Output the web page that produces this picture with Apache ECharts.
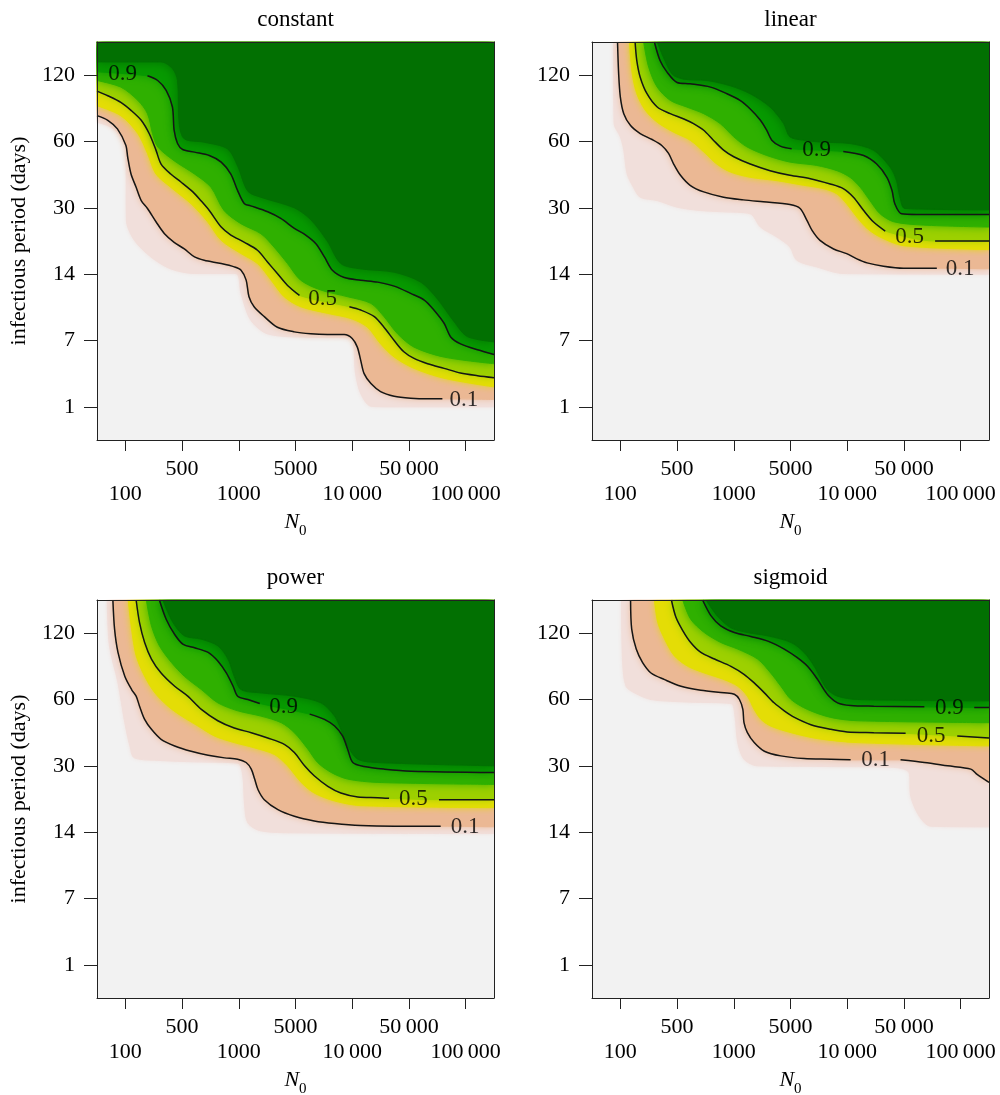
<!DOCTYPE html>
<html><head><meta charset="utf-8">
<script src="https://cdn.jsdelivr.net/npm/echarts@6/dist/echarts.min.js"></script>
<style>html,body{margin:0;padding:0;background:#fff}#c{width:1000px;height:1095px}</style>
</head><body><div id="c"></div>
<script>
// ---- tick labels / titles ----
const xTickLabels = ['100','500','1000','5000','10\u2009000','50\u2009000','100\u2009000'];
const yTickLabels = ['1','7','14','30','60','120'];
const panelTitles = ['constant','linear','power','sigmoid'];
const contourLevels = ['0.1','0.5','0.9'];

// ---- panel "constant": band boundaries [x index, y index]; contours as segments (broken at labels) ----
const constant_pale = [[-0.5,4.29],[-0.31,4.24],[-0.14,4.14],[0.01,3.87],[0.02,2.81],[0.16,2.51],[0.45,2.26],[0.80,2.08],[1.22,2.01],[1.95,2.01],[2.04,1.71],[2.21,1.31],[2.51,1.10],[3.21,1.05],[3.98,1.04],[4.06,0.50],[4.15,0.20],[4.33,0.01],[4.74,0],[6.5,0]];
const constant_c01 = [[[-0.5,4.39],[-0.31,4.32],[-0.14,4.19],[0.01,3.94],[0.04,3.77],[0.10,3.51],[0.19,3.31],[0.28,3.11],[0.39,2.99],[0.54,2.79],[0.69,2.61],[0.86,2.48],[1.04,2.38],[1.22,2.26],[1.39,2.21],[1.69,2.16],[1.92,2.11],[2.04,2.06],[2.13,1.91],[2.18,1.66],[2.27,1.51],[2.45,1.36],[2.68,1.20],[2.98,1.13],[3.27,1.10],[3.56,1.09],[3.86,1.09],[4.00,1.03],[4.09,0.90],[4.15,0.70],[4.21,0.50],[4.33,0.35],[4.50,0.23],[4.74,0.16],[5.03,0.13],[5.33,0.12],[5.59,0.12]],[[6.5,0.11]]];
const constant_yellow = [[-0.5,4.54],[-0.08,4.39],[0.22,4.12],[0.39,3.82],[0.54,3.51],[0.80,3.31],[1.16,3.06],[1.45,2.79],[1.69,2.51],[2.04,2.31],[2.33,2.16],[2.57,1.91],[2.80,1.66],[3.09,1.51],[3.56,1.41],[3.98,1.33],[4.27,1.20],[4.50,0.95],[4.74,0.75],[5.09,0.58],[5.62,0.43],[6.5,0.30]];
const constant_c05 = [[[-0.5,4.76],[-0.31,4.69],[-0.08,4.59],[0.10,4.47],[0.28,4.32],[0.42,4.12],[0.54,3.87],[0.63,3.66],[0.80,3.51],[0.98,3.39],[1.19,3.24],[1.33,3.11],[1.48,2.96],[1.69,2.71],[1.86,2.59],[2.10,2.48],[2.33,2.36],[2.51,2.18],[2.68,2.01],[2.86,1.83],[3.07,1.68]],[[3.95,1.51],[4.15,1.46],[4.39,1.36],[4.56,1.20],[4.74,1.00],[4.91,0.83],[5.09,0.73],[5.33,0.65],[5.62,0.58],[5.91,0.51],[6.21,0.47],[6.5,0.44]]];
const constant_green = [[-0.5,4.92],[-0.08,4.82],[0.22,4.62],[0.39,4.42],[0.48,4.12],[0.57,3.92],[0.86,3.71],[1.22,3.51],[1.51,3.31],[1.74,2.96],[2.04,2.76],[2.39,2.61],[2.62,2.41],[2.86,2.16],[3.09,1.91],[3.45,1.76],[3.92,1.66],[4.33,1.56],[4.56,1.36],[4.80,1.10],[5.09,0.90],[5.62,0.75],[6.5,0.65]];
const constant_c09 = [[[-0.5,5.05]],[[0.39,4.99],[0.57,4.92],[0.72,4.77],[0.83,4.52],[0.86,4.17],[0.92,3.97],[1.01,3.88],[1.22,3.84],[1.48,3.79],[1.69,3.69],[1.86,3.51],[1.98,3.26],[2.10,3.06],[2.21,3.03],[2.51,2.94],[2.74,2.84],[2.98,2.69],[3.18,2.59],[3.36,2.46],[3.51,2.26],[3.65,2.06],[3.86,1.95],[4.15,1.91],[4.45,1.88],[4.74,1.82],[5.03,1.71],[5.27,1.61],[5.44,1.46],[5.62,1.26],[5.74,1.05],[5.91,0.95],[6.21,0.86],[6.5,0.79]]];
const constant_dark = [[-0.5,5.20],[0.63,5.20],[0.83,5.10],[0.92,4.92],[0.95,4.27],[1.04,4.04],[1.39,3.99],[1.80,3.89],[1.98,3.63],[2.16,3.25],[2.39,3.16],[2.98,3.00],[3.27,2.82],[3.56,2.50],[3.80,2.16],[4.15,2.08],[4.74,2.03],[5.21,1.88],[5.50,1.63],[5.80,1.28],[6.03,1.06],[6.5,0.98]];
const constant_labels = [[-0.05,5.02,'0.9'],[3.48,1.62,'0.5'],[5.97,0.11,'0.1']];

// ---- panel "linear" ----
const linear_pale = [[-0.12,5.5],[-0.11,4.27],[0.0,4.07],[0.06,3.87],[0.12,3.51],[0.23,3.31],[0.35,3.16],[0.65,3.11],[1.00,3.01],[1.41,2.96],[1.82,2.94],[2.29,2.91],[2.47,2.71],[2.76,2.56],[2.99,2.41],[3.11,2.21],[3.46,2.11],[3.93,2.01],[6.5,2.00]];
const linear_c01 = [[[-0.05,5.5],[-0.03,5.02],[0.0,4.67],[0.06,4.42],[0.18,4.24],[0.35,4.12],[0.56,4.03],[0.73,3.94],[0.85,3.82],[0.94,3.66],[1.06,3.49],[1.23,3.34],[1.47,3.24],[1.82,3.16],[2.17,3.12],[2.52,3.09],[2.99,3.05],[3.17,2.99],[3.29,2.81],[3.38,2.66],[3.52,2.51],[3.76,2.38],[3.99,2.31],[4.17,2.23],[4.35,2.17],[4.64,2.12],[4.99,2.09],[5.34,2.09],[5.58,2.09]],[[6.5,2.08]]];
const linear_yellow = [[0.16,5.5],[0.21,5.02],[0.29,4.72],[0.44,4.47],[0.65,4.29],[0.94,4.14],[1.23,4.02],[1.50,3.82],[1.70,3.66],[1.94,3.54],[2.29,3.46],[2.76,3.41],[3.23,3.34],[3.58,3.29],[3.82,3.21],[3.99,3.06],[4.17,2.86],[4.35,2.69],[4.58,2.56],[4.99,2.43],[6.5,2.37]];
const linear_c05 = [[[0.26,5.5],[0.29,5.22],[0.35,4.97],[0.47,4.72],[0.65,4.52],[0.88,4.42],[1.12,4.34],[1.29,4.27],[1.47,4.17],[1.64,4.02],[1.82,3.87],[2.00,3.77],[2.29,3.66],[2.64,3.56],[2.99,3.49],[3.35,3.44],[3.70,3.36],[3.93,3.29],[4.11,3.16],[4.29,2.96],[4.46,2.79],[4.67,2.65]],[[5.55,2.50],[6.5,2.50]]];
const linear_green = [[0.41,5.5],[0.50,5.12],[0.65,4.82],[0.88,4.62],[1.17,4.52],[1.47,4.42],[1.76,4.27],[2.00,4.07],[2.23,3.92],[2.58,3.79],[2.99,3.69],[3.46,3.64],[3.82,3.56],[4.05,3.46],[4.23,3.31],[4.40,3.11],[4.58,2.91],[4.82,2.79],[5.34,2.74],[6.5,2.71]];
const linear_c09 = [[[0.60,5.5],[0.70,5.22],[0.82,5.05],[1.00,4.89],[1.23,4.87],[1.59,4.82],[1.88,4.72],[2.11,4.62],[2.29,4.49],[2.47,4.32],[2.58,4.17],[2.67,4.02],[2.82,3.93],[3.02,3.89]],[[3.93,3.85],[4.29,3.79],[4.52,3.66],[4.70,3.46],[4.79,3.26],[4.84,3.06],[4.96,2.91],[5.23,2.90],[6.5,2.90]]];
const linear_dark = [[0.65,5.5],[0.91,5.02],[1.12,4.94],[1.53,4.92],[1.94,4.84],[2.29,4.72],[2.64,4.52],[2.88,4.27],[2.99,4.07],[3.23,4.02],[3.58,3.99],[4.05,3.97],[4.46,3.87],[4.76,3.61],[4.87,3.41],[4.93,3.16],[5.02,2.99],[6.5,2.97]];
const linear_labels = [[3.46,3.87,'0.9'],[5.10,2.56,'0.5'],[5.99,2.08,'0.1']];

// ---- panel "power" ----
const power_pale = [[-0.32,5.5],[-0.28,4.81],[-0.13,4.25],[-0.01,3.65],[0.08,3.30],[0.16,3.12],[0.63,3.08],[1.22,3.06],[1.98,3.04],[2.07,2.85],[2.10,2.44],[2.16,2.14],[2.39,2.02],[2.98,1.99],[6.5,1.98]];
const power_c01 = [[[-0.22,5.5],[-0.19,5.06],[-0.13,4.71],[-0.01,4.35],[0.11,4.15],[0.19,4.05],[0.25,3.90],[0.34,3.70],[0.46,3.55],[0.63,3.40],[0.87,3.30],[1.16,3.22],[1.46,3.16],[1.75,3.12],[1.98,3.10],[2.13,3.05],[2.22,2.95],[2.28,2.80],[2.34,2.64],[2.45,2.49],[2.69,2.34],[2.98,2.24],[3.33,2.17],[3.69,2.13],[4.15,2.10],[4.74,2.09],[5.56,2.09]],[[6.5,2.08]]];
const power_yellow = [[0.05,5.5],[0.11,5.06],[0.19,4.66],[0.34,4.35],[0.52,4.10],[0.75,3.90],[0.99,3.75],[1.28,3.60],[1.57,3.45],[1.92,3.35],[2.28,3.27],[2.63,3.17],[2.86,3.00],[3.10,2.75],[3.33,2.59],[3.69,2.47],[4.15,2.40],[6.5,2.37]];
const power_c05 = [[[0.19,5.5],[0.25,5.16],[0.34,4.86],[0.46,4.61],[0.63,4.40],[0.87,4.20],[1.10,4.05],[1.34,3.85],[1.63,3.68],[1.92,3.57],[2.22,3.50],[2.51,3.42],[2.81,3.32],[2.98,3.20],[3.16,3.00],[3.33,2.85],[3.57,2.69],[3.80,2.59],[4.10,2.53],[4.45,2.52],[4.65,2.51]],[[5.53,2.49],[6.5,2.49]]];
const power_green = [[0.37,5.5],[0.46,5.11],[0.60,4.81],[0.81,4.56],[1.04,4.35],[1.34,4.15],[1.63,3.95],[1.98,3.83],[2.39,3.75],[2.75,3.65],[2.98,3.50],[3.22,3.25],[3.39,3.05],[3.63,2.90],[3.92,2.80],[4.45,2.75],[6.5,2.72]];
const power_c09 = [[[0.60,5.5],[0.72,5.21],[0.87,4.98],[1.02,4.83],[1.22,4.78],[1.46,4.71],[1.63,4.58],[1.78,4.40],[1.90,4.20],[1.98,4.05],[2.16,4.00],[2.37,3.94]],[[3.25,3.78],[3.51,3.70],[3.69,3.60],[3.83,3.45],[3.92,3.25],[4.01,3.05],[4.21,2.99],[4.57,2.95],[5.04,2.92],[6.5,2.90]]];
const power_dark = [[0.66,5.5],[0.84,5.16],[1.04,4.96],[1.34,4.91],[1.63,4.81],[1.81,4.61],[1.92,4.35],[2.04,4.15],[2.39,4.10],[2.98,4.05],[3.45,3.95],[3.69,3.75],[3.80,3.55],[3.92,3.30],[4.10,3.10],[4.45,3.05],[6.5,3.00]];
const power_labels = [[2.79,3.89,'0.9'],[5.08,2.50,'0.5'],[5.99,2.08,'0.1']];

// ---- panel "sigmoid" ----
const sigmoid_pale = [[0.02,5.5],[0.04,4.56],[0.10,4.20],[0.25,4.10],[0.54,4.00],[1.24,3.96],[1.95,3.94],[2.02,3.75],[2.07,3.35],[2.18,3.10],[2.42,3.00],[3.59,2.99],[4.77,2.98],[5.09,2.90],[5.12,2.54],[5.27,2.24],[5.47,2.09],[6.5,2.08]];
const sigmoid_c01 = [[[0.18,5.5],[0.20,5.06],[0.28,4.76],[0.39,4.56],[0.54,4.40],[0.78,4.30],[1.07,4.20],[1.42,4.14],[1.83,4.10],[2.01,4.08],[2.10,4.00],[2.16,3.85],[2.18,3.65],[2.24,3.50],[2.36,3.35],[2.54,3.22],[2.83,3.15],[3.24,3.11],[3.71,3.10],[4.06,3.09]],[[4.94,3.09],[5.36,3.05],[5.77,3.00],[6.18,2.95],[6.29,2.87],[6.5,2.75]]];
const sigmoid_yellow = [[0.60,5.5],[0.66,5.16],[0.78,4.91],[0.95,4.66],[1.19,4.50],[1.48,4.40],[1.83,4.30],[2.07,4.20],[2.24,4.05],[2.36,3.85],[2.48,3.70],[2.65,3.60],[3.01,3.50],[3.48,3.41],[4.18,3.35],[6.5,3.30]];
const sigmoid_c05 = [[[0.90,5.5],[0.98,5.24],[1.10,5.04],[1.24,4.86],[1.42,4.71],[1.66,4.61],[1.95,4.50],[2.18,4.38],[2.36,4.25],[2.54,4.10],[2.71,3.95],[2.89,3.83],[3.07,3.73],[3.36,3.62],[3.71,3.55],[4.00,3.51],[4.47,3.50],[5.03,3.49]],[[5.94,3.45],[6.5,3.42]]];
const sigmoid_green = [[1.10,5.5],[1.24,5.21],[1.48,5.01],[1.77,4.86],[2.07,4.76],[2.42,4.61],[2.65,4.40],[2.83,4.20],[3.01,4.00],[3.30,3.85],[3.71,3.73],[4.18,3.68],[6.5,3.65]];
const sigmoid_c09 = [[[1.45,5.5],[1.60,5.26],[1.77,5.11],[2.01,5.01],[2.30,4.95],[2.60,4.88],[2.89,4.76],[3.12,4.63],[3.30,4.50],[3.48,4.30],[3.59,4.15],[3.68,4.05],[3.83,3.95],[4.06,3.91],[4.47,3.90],[5.36,3.89]],[[6.24,3.88],[6.5,3.88]]];
const sigmoid_dark = [[1.51,5.5],[1.71,5.26],[1.95,5.08],[2.24,5.01],[2.60,4.96],[3.01,4.86],[3.24,4.71],[3.42,4.50],[3.53,4.32],[3.65,4.15],[3.83,4.05],[4.18,4.00],[6.5,3.98]];
const sigmoid_labels = [[5.80,3.88,'0.9'],[5.48,3.45,'0.5'],[4.50,3.09,'0.1']];

// ---- assembly ----
const panels = [
  {title:panelTitles[0], pale:constant_pale, c01:constant_c01, yellow:constant_yellow, c05:constant_c05, green:constant_green, c09:constant_c09, dark:constant_dark, labels:constant_labels},
  {title:panelTitles[1], pale:linear_pale, c01:linear_c01, yellow:linear_yellow, c05:linear_c05, green:linear_green, c09:linear_c09, dark:linear_dark, labels:linear_labels},
  {title:panelTitles[2], pale:power_pale, c01:power_c01, yellow:power_yellow, c05:power_c05, green:power_green, c09:power_c09, dark:power_dark, labels:power_labels},
  {title:panelTitles[3], pale:sigmoid_pale, c01:sigmoid_c01, yellow:sigmoid_yellow, c05:sigmoid_c05, green:sigmoid_green, c09:sigmoid_c09, dark:sigmoid_dark, labels:sigmoid_labels}
];

const FONT = "'Liberation Serif','Times New Roman',Times,serif";
const gridPos = [{left:97,top:42},{left:592,top:42},{left:97,top:600},{left:592,top:600}];
const PW = 397, PH = 398;
const bandOrder = ['pale','c01','yellow','c05','green','c09','dark'];
const bandColor = {pale:'#f1dfdb', c01:'#ebb894', yellow:'#e4dd06', c05:'#9dd000', green:'#2fb000', c09:'#079a00', dark:'#027002'};
const bandBlur = {pale:4, c01:7, yellow:7, c05:8, green:10, c09:10, dark:12};
const lineCol = '#222';
const xTickPos = xTickLabels.map((_, i) => i);
const yTickPos = yTickLabels.map((_, i) => i);

const grid = [], xAxis = [], yAxis = [], series = [], title = [];
panels.forEach((p, gi) => {
  const g = gridPos[gi];
  grid.push({left:g.left, top:g.top, width:PW, height:PH, show:true, backgroundColor:'#f2f2f2', borderWidth:0, containLabel:false, outerBoundsMode:'none'});
  title.push({text:p.title, left:g.left + PW/2 - 5, top:g.top - 39, textAlign:'center',
    textStyle:{fontFamily:FONT, fontWeight:'normal', fontSize:23, color:'#000'}});
  const lbl = {color:'#000', fontFamily:FONT, fontSize:22};
  xAxis.push({gridIndex:gi, type:'value', min:-0.5, max:6.5, position:'bottom', z:11,
    axisLine:{show:true, onZero:false, lineStyle:{color:lineCol, width:1}},
    axisTick:{show:true, customValues:xTickPos, length:11, lineStyle:{color:lineCol, width:1}},
    axisLabel:Object.assign({show:true, customValues:xTickPos.filter(i => i % 2 === 0), formatter:v => xTickLabels[Math.round(v)], margin:43}, lbl),
    splitLine:{show:false},
    name:'{n|N}{s|0}', nameLocation:'middle', nameGap:71,
    nameTextStyle:{rich:{
      n:{fontFamily:FONT, fontStyle:'italic', fontSize:22, color:'#000', lineHeight:28, verticalAlign:'top'},
      s:{fontFamily:FONT, fontSize:15, color:'#000', lineHeight:28, verticalAlign:'bottom'}}}});
  xAxis.push({gridIndex:gi, type:'value', min:-0.5, max:6.5, position:'bottom',
    axisLine:{show:false, onZero:false}, axisTick:{show:false},
    axisLabel:Object.assign({show:true, customValues:xTickPos.filter(i => i % 2 === 1), formatter:v => xTickLabels[Math.round(v)], margin:18}, lbl),
    splitLine:{show:false}});
  xAxis.push({gridIndex:gi, type:'value', min:-0.5, max:6.5, position:'top', z:11,
    axisLine:{show:true, onZero:false, lineStyle:{color:lineCol, width:1}}, axisTick:{show:false}, axisLabel:{show:false}, splitLine:{show:false}});
  yAxis.push({gridIndex:gi, type:'value', min:-0.5, max:5.5, position:'left', z:11,
    axisLine:{show:true, onZero:false, lineStyle:{color:lineCol, width:1}},
    axisTick:{show:true, customValues:yTickPos, length:13, lineStyle:{color:lineCol, width:1}},
    axisLabel:Object.assign({show:true, customValues:yTickPos, formatter:v => yTickLabels[Math.round(v)], margin:22}, lbl),
    splitLine:{show:false},
    name: gi % 2 === 0 ? 'infectious period (days)' : '', nameLocation:'middle', nameGap:67, nameRotate:90,
    nameTextStyle:{fontFamily:FONT, fontSize:22, color:'#000'}});
  yAxis.push({gridIndex:gi, type:'value', min:-0.5, max:5.5, position:'right', z:11,
    axisLine:{show:true, onZero:false, lineStyle:{color:lineCol, width:1}}, axisTick:{show:false}, axisLabel:{show:false}, splitLine:{show:false}});

  const xi = 3 * gi, yi = 2 * gi;
  bandOrder.forEach((b, k) => {
    const d = (b === 'c01' || b === 'c05' || b === 'c09') ? [].concat(...p[b]) : p[b];
    series.push({type:'line', xAxisIndex:xi, yAxisIndex:yi, data:d, smooth:0.3, symbol:'none', showSymbol:false,
      lineStyle:{width:1, color:bandColor[b]},
      areaStyle:{color:bandColor[b], opacity:1, origin:'end', shadowBlur:bandBlur[b], shadowColor:bandColor[b]},
      z:2 + k, silent:true, animation:false});
  });
  ['c01','c05','c09'].forEach(b => {
    p[b].forEach(seg => {
      if (seg.length > 1) series.push({type:'line', xAxisIndex:xi, yAxisIndex:yi, data:seg, smooth:0.3, symbol:'none', showSymbol:false,
        lineStyle:{color:'#151515', width:1.5}, z:9, silent:true, animation:false});
    });
  });
  series.push({type:'scatter', xAxisIndex:xi, yAxisIndex:yi, symbolSize:1, itemStyle:{color:'rgba(0,0,0,0)'},
    data:p.labels.map(l => ({value:[l[0], l[1]], name:l[2]})),
    label:{show:true, position:'inside', formatter:'{b}', color:'#000', fontFamily:FONT, fontSize:23},
    z:10, silent:true, animation:false});
});

const chart = echarts.init(document.getElementById('c'), null, {renderer:'canvas'});
chart.setOption({animation:false, backgroundColor:'#fff', title, grid, xAxis, yAxis, series});
</script></body></html>
